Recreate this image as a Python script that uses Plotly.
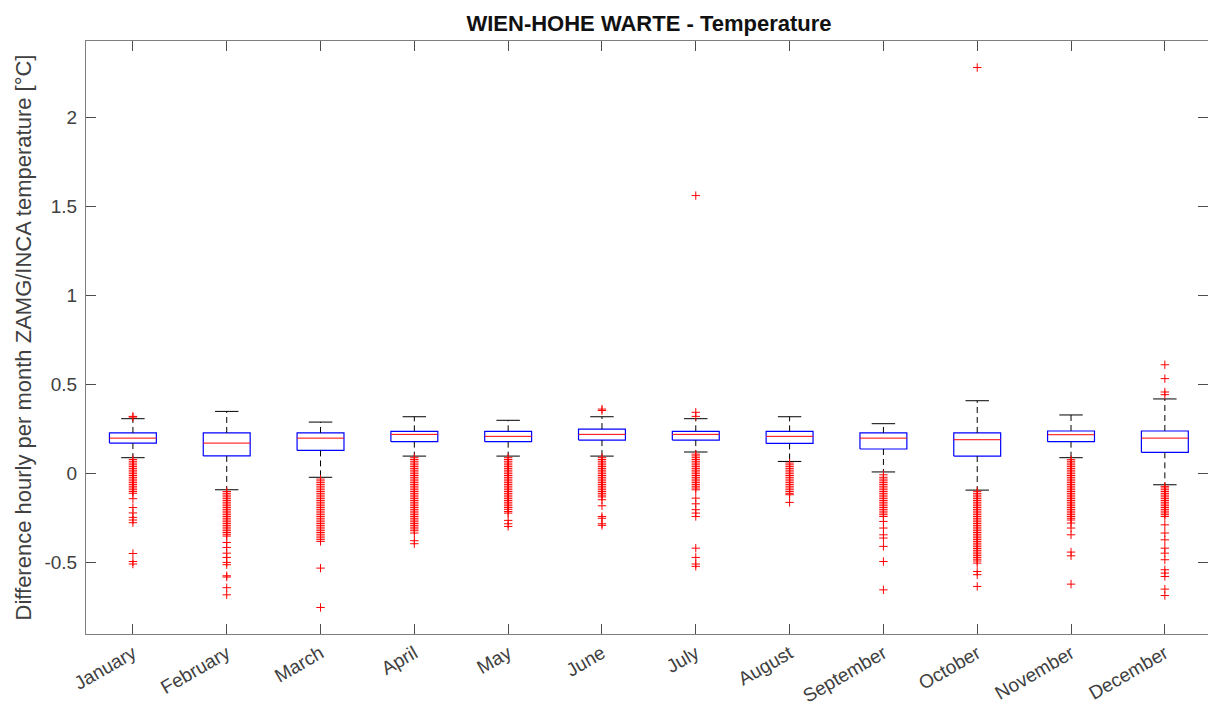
import plotly.graph_objects as go

# Monthly box statistics of hourly differences ZAMG vs INCA temperature [°C]
months = ["January", "February", "March", "April", "May", "June",
          "July", "August", "September", "October", "November", "December"]
q1 = [0.172, 0.100, 0.131, 0.180, 0.180, 0.189, 0.189, 0.170, 0.139, 0.099, 0.180, 0.120]
median = [0.200, 0.172, 0.200, 0.221, 0.210, 0.221, 0.221, 0.210, 0.200, 0.191, 0.219, 0.200]
q3 = [0.229, 0.229, 0.229, 0.238, 0.238, 0.251, 0.238, 0.238, 0.229, 0.229, 0.240, 0.240]
lower_whisker = [0.090, -0.090, -0.020, 0.099, 0.099, 0.099, 0.122, 0.069, 0.010, -0.092, 0.090, -0.062]
upper_whisker = [0.309, 0.350, 0.290, 0.320, 0.300, 0.320, 0.309, 0.320, 0.281, 0.410, 0.330, 0.420]

# Outliers per month
out_jan = [0.322, 0.318, 0.08, 0.07, 0.06, 0.05, 0.04, 0.03, 0.02, 0.01, 0.0, -0.01, -0.02,
           -0.03, -0.04, -0.05, -0.06, -0.07, -0.08, -0.09, -0.10, -0.11, -0.14, -0.19,
           -0.22, -0.245, -0.26, -0.275, -0.448, -0.493, -0.507]
out_feb = [-0.10, -0.11, -0.12, -0.13, -0.14, -0.15, -0.16, -0.17, -0.18, -0.19, -0.20,
           -0.21, -0.22, -0.23, -0.24, -0.25, -0.26, -0.27, -0.28, -0.29, -0.30, -0.31,
           -0.32, -0.33, -0.34, -0.35, -0.386, -0.414, -0.446, -0.47, -0.498, -0.511,
           -0.573, -0.58, -0.64, -0.68]
out_mar = [-0.03, -0.04, -0.05, -0.06, -0.07, -0.08, -0.09, -0.10, -0.11, -0.12, -0.13,
           -0.14, -0.15, -0.16, -0.17, -0.18, -0.19, -0.20, -0.21, -0.22, -0.23, -0.24,
           -0.25, -0.26, -0.27, -0.28, -0.29, -0.30, -0.31, -0.32, -0.33, -0.34, -0.35,
           -0.36, -0.37, -0.38, -0.53, -0.751]
out_apr = [0.09, 0.08, 0.07, 0.06, 0.05, 0.04, 0.03, 0.02, 0.01, 0.0, -0.01, -0.02, -0.03,
           -0.04, -0.05, -0.06, -0.07, -0.08, -0.09, -0.10, -0.11, -0.12, -0.13, -0.14,
           -0.15, -0.16, -0.17, -0.18, -0.19, -0.20, -0.21, -0.22, -0.23, -0.24, -0.25,
           -0.26, -0.27, -0.28, -0.29, -0.30, -0.31, -0.32, -0.333, -0.376, -0.393]
out_may = [0.09, 0.08, 0.07, 0.06, 0.05, 0.04, 0.03, 0.02, 0.01, 0.0, -0.01, -0.02, -0.03,
           -0.04, -0.05, -0.06, -0.07, -0.08, -0.09, -0.10, -0.11, -0.12, -0.13, -0.14,
           -0.15, -0.16, -0.17, -0.18, -0.19, -0.20, -0.212, -0.221, -0.262, -0.281, -0.296]
out_jun = [0.363, 0.355, 0.09, 0.08, 0.07, 0.06, 0.05, 0.04, 0.03, 0.02, 0.01, 0.0, -0.01,
           -0.02, -0.03, -0.04, -0.05, -0.06, -0.07, -0.08, -0.09, -0.10, -0.11, -0.12,
           -0.13, -0.146, -0.18, -0.24, -0.25, -0.281, -0.29]
out_jul = [1.562, 0.345, 0.322, 0.11, 0.10, 0.09, 0.08, 0.07, 0.06, 0.05, 0.04, 0.03, 0.02,
           0.01, 0.0, -0.01, -0.02, -0.03, -0.04, -0.05, -0.06, -0.07, -0.08, -0.09,
           -0.137, -0.169, -0.202, -0.221, -0.24, -0.418, -0.47, -0.507, -0.52]
out_aug = [0.06, 0.05, 0.04, 0.03, 0.02, 0.01, 0.0, -0.01, -0.02, -0.03, -0.04, -0.05,
           -0.06, -0.07, -0.08, -0.09, -0.10, -0.11, -0.118, -0.161]
out_sep = [-0.006, -0.02, -0.03, -0.04, -0.05, -0.06, -0.07, -0.08, -0.09, -0.10, -0.11,
           -0.12, -0.13, -0.14, -0.15, -0.16, -0.17, -0.18, -0.19, -0.20, -0.21, -0.22,
           -0.23, -0.24, -0.268, -0.305, -0.343, -0.361, -0.408, -0.493, -0.652]
out_oct = [2.281, -0.099, -0.11, -0.12, -0.13, -0.14, -0.15, -0.16, -0.17, -0.18, -0.19,
           -0.20, -0.21, -0.22, -0.23, -0.24, -0.25, -0.26, -0.27, -0.28, -0.29, -0.30,
           -0.31, -0.32, -0.33, -0.34, -0.35, -0.36, -0.37, -0.38, -0.39, -0.40, -0.41,
           -0.42, -0.43, -0.44, -0.45, -0.46, -0.47, -0.48, -0.49, -0.502, -0.549,
           -0.567, -0.633]
out_nov = [0.079, 0.07, 0.06, 0.05, 0.04, 0.03, 0.02, 0.01, 0.0, -0.01, -0.02, -0.03,
           -0.04, -0.05, -0.06, -0.07, -0.08, -0.09, -0.10, -0.11, -0.12, -0.13, -0.14,
           -0.15, -0.16, -0.17, -0.18, -0.19, -0.20, -0.21, -0.22, -0.23, -0.24, -0.25,
           -0.26, -0.277, -0.305, -0.343, -0.44, -0.461, -0.62]
out_dec = [0.612, 0.534, 0.459, 0.444, -0.071, -0.08, -0.09, -0.10, -0.11, -0.12, -0.13,
           -0.14, -0.15, -0.16, -0.17, -0.18, -0.19, -0.20, -0.21, -0.22, -0.23, -0.24,
           -0.287, -0.333, -0.371, -0.418, -0.446, -0.483, -0.539, -0.558, -0.577,
           -0.648, -0.684]
outliers = [out_jan, out_feb, out_mar, out_apr, out_may, out_jun,
            out_jul, out_aug, out_sep, out_oct, out_nov, out_dec]

y_ticks = [-0.5, 0, 0.5, 1, 1.5, 2]
y_tick_text = ["-0.5", "0", "0.5", "1", "1.5", "2"]

positions = list(range(1, len(months) + 1))
BOX_W = 0.5
CAP_W = 0.25
FONT = "Liberation Sans, Arial, Helvetica, sans-serif"

fig = go.Figure()

# Blue box outlines (Q1..Q3)
bx, by = [], []
for p, a, b in zip(positions, q1, q3):
    l, r = p - BOX_W / 2, p + BOX_W / 2
    bx += [l, r, r, l, l, None]
    by += [a, a, b, b, a, None]
fig.add_trace(go.Scatter(x=bx, y=by, mode="lines",
                         line=dict(color="#0000ff", width=1.2),
                         hoverinfo="skip", showlegend=False))

# Dashed whiskers
wx, wy = [], []
for p, lo, hi, a, b in zip(positions, lower_whisker, upper_whisker, q1, q3):
    wx += [p, p, None, p, p, None]
    wy += [b, hi, None, a, lo, None]
fig.add_trace(go.Scatter(x=wx, y=wy, mode="lines",
                         line=dict(color="black", width=1, dash="6px,4px"),
                         hoverinfo="skip", showlegend=False))

# Whisker caps
cx, cy = [], []
for p, lo, hi in zip(positions, lower_whisker, upper_whisker):
    cx += [p - CAP_W / 2, p + CAP_W / 2, None, p - CAP_W / 2, p + CAP_W / 2, None]
    cy += [hi, hi, None, lo, lo, None]
fig.add_trace(go.Scatter(x=cx, y=cy, mode="lines",
                         line=dict(color="black", width=1),
                         hoverinfo="skip", showlegend=False))

# Red median lines
mx, my = [], []
for p, m in zip(positions, median):
    mx += [p - BOX_W / 2, p + BOX_W / 2, None]
    my += [m, m, None]
fig.add_trace(go.Scatter(x=mx, y=my, mode="lines",
                         line=dict(color="#ff0000", width=1),
                         hoverinfo="skip", showlegend=False))

# Outlier markers
ox, oy = [], []
for p, vals in zip(positions, outliers):
    ox += [p] * len(vals)
    oy += vals
fig.add_trace(go.Scatter(x=ox, y=oy, mode="markers",
                         marker=dict(symbol="cross-thin", size=6,
                                     line=dict(color="#ff0000", width=1)),
                         hoverinfo="skip", showlegend=False))

axis_common = dict(
    showline=True, linecolor="#7f7f7f", linewidth=1,
    mirror="ticks", ticks="inside", ticklen=10, tickcolor="#4d4d4d",
    showgrid=False, zeroline=False,
    tickfont=dict(family=FONT, size=19, color="#404040"),
)

fig.update_layout(
    width=1208, height=706,
    margin=dict(l=86, r=0, t=41, b=72),
    paper_bgcolor="white", plot_bgcolor="white",
    font=dict(family=FONT),
    title=dict(text="<b>WIEN-HOHE WARTE - Temperature</b>",
               font=dict(family=FONT, size=22, color="#111111"),
               x=649 / 1208, xref="container", xanchor="center",
               y=1 - 23 / 706, yref="container", yanchor="middle"),
    xaxis=dict(range=[0.5, 12.46], tickvals=positions, ticktext=months,
               tickangle=-30, **axis_common),
    yaxis=dict(range=[-0.9, 2.43], tickvals=y_ticks, ticktext=y_tick_text,
               ticklabelstandoff=4,
               title=dict(text="Difference hourly per month ZAMG/INCA temperature [°C]",
                          font=dict(family=FONT, size=22, color="#404040"),
                          standoff=6),
               **axis_common),
)

fig.write_html("out.html")
